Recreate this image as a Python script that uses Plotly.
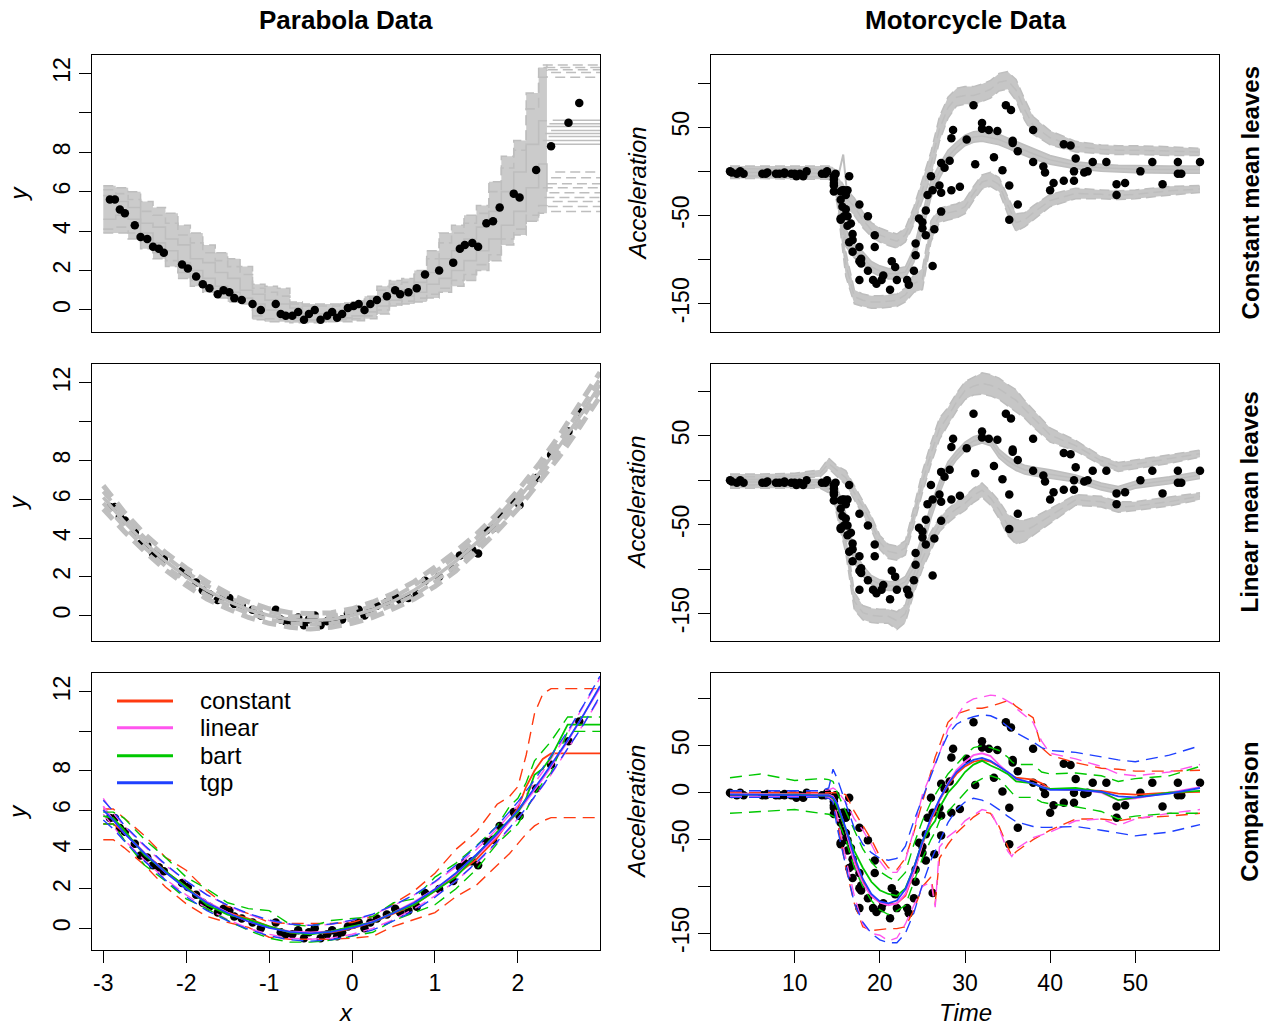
import plotly.graph_objects as go

# ====================== DATA ======================
# Parabola data points
PAR_X = [-2.92, -2.86, -2.80, -2.74, -2.62, -2.55, -2.47, -2.40, -2.33, -2.27, -2.05, -1.98, -1.88, -1.80,
         -1.72, -1.62, -1.55, -1.48, -1.42, -1.33, -1.20, -1.10, -0.92, -0.86, -0.80, -0.72, -0.65, -0.58,
         -0.52, -0.45, -0.38, -0.30, -0.24, -0.18, -0.12, -0.05, 0.02, 0.08, 0.15, 0.22, 0.30, 0.42, 0.52,
         0.58, 0.68, 0.78, 0.88, 1.05, 1.22, 1.30, 1.36, 1.45, 1.52, 1.62, 1.70, 1.78, 1.95, 2.02, 2.22,
         2.40, 2.61, 2.74]
PAR_Y = [5.6, 5.6, 5.1, 4.9, 4.3, 3.7, 3.6, 3.2, 3.1, 2.9, 2.3, 2.1, 1.7, 1.3,
         1.1, 0.8, 1.0, 0.9, 0.6, 0.5, 0.3, 0.0, 0.3, -0.2, -0.3, -0.3, -0.1, -0.5,
         -0.2, 0.0, -0.5, -0.3, -0.1, -0.4, -0.2, 0.1, 0.2, 0.3, 0.0, 0.3, 0.5, 0.7, 1.0,
         0.8, 0.9, 1.1, 1.8, 2.0, 2.4, 3.1, 3.3, 3.4, 3.2, 4.4, 4.5, 5.2, 5.9, 5.7, 7.1,
         8.3, 9.5, 10.5]

# Motorcycle data (times, acceleration)
MC_TIME = [2.4, 2.6, 3.2, 3.6, 4.0, 6.2, 6.6, 6.8, 7.8, 8.2, 8.8, 8.8, 9.6, 10.0, 10.2, 10.6, 11.0, 11.4,
           13.2, 13.6, 13.8, 14.6, 14.6, 14.6, 14.6, 14.6, 14.6, 14.8, 15.4, 15.4, 15.4, 15.4, 15.6, 15.6,
           15.8, 15.8, 16.0, 16.0, 16.2, 16.2, 16.2, 16.4, 16.4, 16.6, 16.8, 16.8, 16.8, 17.6, 17.6, 17.6,
           17.6, 17.8, 17.8, 18.6, 18.6, 19.2, 19.4, 19.4, 19.6, 20.2, 20.4, 21.2, 21.4, 21.8, 22.0, 23.2,
           23.4, 24.0, 24.2, 24.2, 24.6, 25.0, 25.0, 25.4, 25.4, 25.6, 26.0, 26.2, 26.2, 26.4, 27.0, 27.2,
           27.2, 27.2, 27.6, 28.2, 28.4, 28.4, 28.6, 29.4, 30.2, 31.0, 31.2, 32.0, 32.0, 32.8, 33.4, 33.8,
           34.4, 34.8, 35.2, 35.2, 35.4, 35.6, 35.6, 36.2, 36.2, 38.0, 38.0, 39.2, 39.4, 40.0, 40.4, 41.6,
           41.6, 42.4, 42.8, 42.8, 43.0, 44.0, 44.4, 45.0, 46.6, 47.8, 47.8, 48.8, 50.6, 52.0, 53.2, 55.0,
           55.0, 55.4, 57.6]
MC_ACCEL = [0.0, -1.3, -2.7, 0.0, -2.7, -2.7, -2.7, -1.3, -2.7, -2.7, -1.3, -2.7, -2.7, -2.7, -5.4, -2.7,
            -5.4, 0.0, -2.7, -2.7, 0.0, -13.3, -5.4, -5.4, -9.3, -16.0, -22.8, -2.7, -22.8, -32.1, -53.5,
            -54.9, -40.2, -21.5, -21.5, -50.8, -42.9, -26.8, -21.5, -50.8, -61.7, -5.4, -80.4, -59.0, -71.0,
            -91.1, -77.7, -37.5, -85.6, -123.1, -101.9, -99.1, -104.4, -112.5, -50.8, -123.1, -85.6, -72.3,
            -127.2, -123.1, -117.9, -134.0, -101.9, -108.4, -123.1, -123.1, -128.5, -112.5, -95.1, -81.8,
            -53.5, -64.4, -57.6, -72.3, -44.3, -26.8, -5.4, -107.1, -21.5, -65.6, -16.0, -45.6, -24.2, 9.5,
            4.0, 12.0, -21.5, 37.5, 46.9, -17.4, 36.2, 75.0, 8.1, 54.9, 48.2, 46.9, 16.0, 45.6, 1.3, 75.0,
            -16.0, -54.9, 69.6, 34.8, 32.1, -37.5, 22.8, 46.9, 10.7, 5.4, -1.3, -21.5, -13.3, 30.8, -10.7,
            29.4, 0.0, -10.7, 14.7, -1.3, 0.0, 10.7, 10.7, -26.8, -14.7, -13.3, 0.0, 10.7, -14.7, -2.7, 10.7,
            -2.7, 10.7]

# --- Top-left: constant-leaf posterior samples (envelope + a few sample step lines) ---
TL_X = [-3.0, -2.85, -2.7, -2.55, -2.4, -2.25, -2.1, -1.95, -1.8, -1.65, -1.5, -1.35, -1.2, -1.05, -0.9,
        -0.75, -0.6, -0.45, -0.3, -0.15, 0.0, 0.15, 0.3, 0.45, 0.6, 0.75, 0.9, 1.05, 1.2, 1.35, 1.5, 1.65,
        1.8, 1.95, 2.1, 2.25, 2.35]
TL_HI = [6.3, 6.2, 6.0, 5.5, 5.2, 4.9, 4.3, 3.9, 3.3, 2.9, 2.6, 2.2, 1.3, 1.2, 1.1, 0.4, 0.3, 0.3, 0.3,
         0.35, 0.45, 0.7, 1.2, 1.5, 1.6, 2.0, 3.0, 3.9, 4.3, 4.8, 5.3, 6.5, 7.8, 8.6, 11.0, 12.3, 12.45]
TL_LO = [3.9, 3.9, 3.6, 3.1, 2.6, 2.2, 1.6, 1.2, 0.9, 0.6, 0.4, 0.3, -0.5, -0.6, -0.6, -0.65, -0.65,
         -0.65, -0.6, -0.6, -0.55, -0.45, -0.2, 0.2, 0.3, 0.4, 0.6, 0.9, 1.2, 1.5, 2.0, 2.5, 3.3, 3.8, 4.5,
         4.9, 5.0]
TL_S1 = [5.8, 5.5, 5.2, 4.4, 4.2, 3.6, 3.3, 2.6, 2.4, 1.9, 1.6, 1.0, 0.8, 0.5, 0.3, 0.1, -0.2, -0.2, -0.1,
         0.0, 0.1, 0.3, 0.5, 0.9, 1.0, 1.4, 1.9, 2.6, 3.0, 3.6, 4.2, 5.0, 6.0, 7.0, 8.4, 9.6, 9.6]
TL_S2 = [4.6, 4.8, 4.6, 3.9, 3.4, 3.0, 2.4, 2.0, 1.6, 1.2, 0.9, 0.6, 0.3, 0.0, -0.3, -0.4, -0.5, -0.5,
         -0.4, -0.4, -0.3, -0.1, 0.2, 0.5, 0.7, 0.9, 1.3, 1.6, 2.0, 2.5, 3.0, 3.6, 4.3, 5.0, 6.2, 7.4, 6.0]
TL_S3 = [6.1, 5.9, 5.6, 5.0, 4.8, 4.4, 3.8, 3.4, 2.9, 2.5, 2.2, 1.8, 1.1, 0.9, 0.7, 0.3, 0.2, 0.2, 0.2,
         0.25, 0.35, 0.6, 1.0, 1.3, 1.4, 1.8, 2.6, 3.4, 3.9, 4.4, 4.9, 6.0, 7.2, 8.1, 10.2, 11.8, 12.2]
TL_S4 = [4.1, 4.2, 3.9, 3.4, 2.9, 2.5, 1.9, 1.5, 1.1, 0.8, 0.6, 0.4, -0.3, -0.45, -0.5, -0.55, -0.55,
         -0.55, -0.5, -0.5, -0.45, -0.3, 0.0, 0.3, 0.45, 0.6, 0.8, 1.1, 1.5, 1.8, 2.3, 2.8, 3.6, 4.1, 4.8,
         5.3, 5.5]
# flat leaves at the right end: levels and start points of sample lines
TL_X_END = 2.99
TL_UP_LEVELS = [12.42, 12.3, 12.18, 12.05, 11.8]
TL_UP_X0 = [2.30, 2.33, 2.36, 2.40, 2.45]
TL_MEAN_LEVELS = [9.62, 9.45, 9.3, 9.1, 8.95, 8.8, 8.6, 8.4]
TL_MEAN_X0 = [2.42, 2.38, 2.35, 2.40, 2.33, 2.37, 2.30, 2.36]
TL_LO_LEVELS = [7.0, 6.7, 6.4, 6.2, 5.95, 5.7, 5.5, 5.25, 5.0]
TL_LO_X0 = [2.45, 2.40, 2.35, 2.30, 2.38, 2.32, 2.42, 2.36, 2.40]

# --- Middle-left: linear-leaf posterior sample lines ---
ML_X = [-3.0, -2.75, -2.5, -2.25, -2.0, -1.75, -1.5, -1.25, -1.0, -0.75, -0.5, -0.25, 0.0, 0.25, 0.5,
        0.75, 1.0, 1.25, 1.5, 1.75, 2.0, 2.25, 2.5, 2.75, 2.99]
ML_MEAN = [6.1, 4.85, 3.75, 2.8, 2.0, 1.3, 0.75, 0.3, 0.0, -0.2, -0.25, -0.2, 0.0, 0.3, 0.75, 1.3, 2.0,
           2.8, 3.75, 4.8, 6.0, 7.3, 8.75, 10.3, 11.9]
ML_HI = [6.7, 5.35, 4.2, 3.25, 2.45, 1.75, 1.15, 0.7, 0.35, 0.15, 0.1, 0.15, 0.35, 0.7, 1.15, 1.75, 2.5,
         3.3, 4.2, 5.25, 6.45, 7.8, 9.3, 10.9, 12.55]
ML_LO = [5.5, 4.35, 3.3, 2.35, 1.55, 0.85, 0.35, -0.1, -0.4, -0.6, -0.7, -0.6, -0.4, -0.1, 0.35, 0.85,
         1.5, 2.3, 3.3, 4.35, 5.5, 6.8, 8.2, 9.75, 11.3]
ML_HI2 = [6.4, 5.1, 4.0, 3.05, 2.25, 1.55, 0.95, 0.5, 0.18, -0.02, -0.06, -0.02, 0.18, 0.5, 0.95, 1.55,
          2.25, 3.05, 4.0, 5.05, 6.25, 7.55, 9.0, 10.6, 12.2]
ML_LO2 = [5.8, 4.6, 3.5, 2.55, 1.75, 1.05, 0.55, 0.1, -0.2, -0.4, -0.45, -0.4, -0.2, 0.1, 0.55, 1.05,
          1.75, 2.55, 3.5, 4.55, 5.75, 7.05, 8.5, 10.0, 11.6]

# --- Bottom-left: comparison of fits (mean, 5% and 95% quantiles) ---
BL_X = [-3.0, -2.88, -2.75, -2.5, -2.25, -2.0, -1.75, -1.5, -1.25, -1.0, -0.75, -0.5, -0.25, 0.0, 0.25,
        0.5, 0.75, 1.0, 1.25, 1.5, 1.75, 1.9, 2.0, 2.1, 2.2, 2.3, 2.4, 2.6, 2.8, 2.99]
CONST_MEAN = [5.3, 5.3, 4.9, 3.8, 2.9, 2.1, 1.3, 0.8, 0.5, 0.1, -0.2, -0.25, -0.2, 0.0, 0.3, 0.75, 1.2,
              1.9, 2.7, 3.5, 4.6, 5.5, 6.1, 7.2, 8.0, 8.6, 8.88, 8.88, 8.88, 8.88]
CONST_HI = [6.06, 6.06, 5.6, 4.7, 3.6, 2.95, 1.9, 1.1, 0.75, 0.3, 0.25, 0.25, 0.25, 0.3, 0.6, 1.25, 1.9,
            2.8, 4.0, 4.9, 6.3, 6.7, 7.2, 8.8, 10.9, 11.9, 12.17, 12.17, 12.17, 12.17]
CONST_LO = [4.5, 4.5, 4.1, 3.2, 2.1, 1.25, 0.6, 0.3, 0.05, -0.45, -0.55, -0.55, -0.55, -0.5, -0.4, 0.1,
            0.45, 0.8, 1.6, 2.2, 3.2, 3.8, 4.3, 4.8, 5.2, 5.45, 5.62, 5.62, 5.62, 5.62]
LIN_MEAN = [6.2, 5.5, 4.85, 3.8, 2.85, 2.05, 1.35, 0.8, 0.35, 0.05, -0.15, -0.2, -0.15, 0.05, 0.35, 0.8,
            1.35, 2.0, 2.75, 3.65, 4.7, 5.4, 5.9, 6.45, 7.0, 7.6, 8.2, 9.5, 10.9, 12.2]
LIN_HI = [6.6, 5.85, 5.2, 4.15, 3.2, 2.4, 1.7, 1.15, 0.7, 0.4, 0.2, 0.15, 0.2, 0.4, 0.7, 1.15, 1.7, 2.35,
          3.1, 4.0, 5.05, 5.75, 6.25, 6.8, 7.35, 7.95, 8.6, 9.9, 11.35, 12.7]
LIN_LO = [5.8, 5.15, 4.5, 3.45, 2.5, 1.7, 1.0, 0.45, 0.0, -0.3, -0.5, -0.55, -0.5, -0.3, 0.0, 0.45, 1.0,
          1.65, 2.4, 3.3, 4.35, 5.05, 5.55, 6.1, 6.65, 7.25, 7.8, 9.1, 10.45, 11.7]
BART_MEAN = [5.7, 5.6, 5.0, 3.7, 2.9, 2.1, 1.2, 0.7, 0.45, 0.1, -0.2, -0.3, -0.15, 0.1, 0.3, 0.8, 1.2,
             1.9, 2.6, 3.7, 4.9, 5.5, 5.9, 6.6, 7.8, 8.1, 8.7, 10.34, 10.34, 10.34]
BART_HI = [5.9, 5.9, 5.6, 4.5, 3.6, 2.6, 2.0, 1.3, 1.0, 0.9, 0.2, 0.1, 0.4, 0.5, 0.6, 1.3, 1.5, 2.6, 3.3,
           4.2, 5.2, 6.2, 6.6, 7.4, 8.5, 9.0, 9.5, 10.73, 10.73, 10.73]
BART_LO = [5.3, 5.3, 4.5, 3.2, 2.4, 1.5, 1.0, 0.4, -0.1, -0.5, -0.7, -0.7, -0.6, -0.4, -0.2, 0.4, 0.8,
           1.2, 2.0, 3.0, 4.3, 4.9, 5.3, 6.0, 6.8, 7.4, 7.9, 10.0, 10.0, 10.0]
TGP_MEAN = [6.0, 5.5, 4.85, 3.8, 2.85, 2.0, 1.3, 0.78, 0.35, 0.02, -0.18, -0.25, -0.18, 0.02, 0.32, 0.78,
            1.3, 1.98, 2.8, 3.75, 4.8, 5.5, 6.0, 6.55, 7.1, 7.7, 8.3, 9.55, 10.9, 12.3]
TGP_HI = [6.5, 5.95, 5.25, 4.2, 3.25, 2.4, 1.7, 1.18, 0.75, 0.42, 0.22, 0.15, 0.22, 0.42, 0.72, 1.18, 1.7,
          2.38, 3.2, 4.15, 5.2, 5.9, 6.42, 6.98, 7.53, 8.15, 8.75, 10.0, 11.4, 12.8]
TGP_LO = [5.5, 5.05, 4.45, 3.4, 2.45, 1.6, 0.9, 0.38, -0.05, -0.38, -0.58, -0.65, -0.58, -0.38, -0.08,
          0.38, 0.9, 1.58, 2.4, 3.35, 4.4, 5.1, 5.58, 6.12, 6.67, 7.25, 7.85, 9.1, 10.4, 11.8]

# --- Right column grey bands (posterior samples): centre and half-thickness ---
TG = [2.4, 6, 10, 13, 14, 14.5, 15, 16, 17, 18, 19, 20, 21, 22, 23, 24, 25, 26, 27, 28, 29, 30, 31, 32,
      33, 34, 35, 36, 37, 38, 40, 43, 46, 48, 50, 54, 57.6]
# constant mean leaves
TR_MEAN_C = [-1, -1.5, -2, -2, -3, -8, -20, -75, -90, -98, -108, -113, -116, -116, -114, -95, -58, -20,
             0, 17, 27, 35, 39, 40, 38, 36, 32, 28, 24, 20, 13, 7, 4, 3, 2.5, 2, 2]
TR_MEAN_W = [4, 4, 4, 4, 4, 5, 7, 10, 8, 7, 6, 6, 6, 6, 6, 8, 10, 10, 8, 7, 6, 6, 6, 6, 6, 6, 6, 6, 6, 6,
             5, 4, 4, 4, 4, 4, 4]
TR_UP_C = [3, 3, 3, 3, 3, 0, -12, -30, -40, -55, -66, -72, -76, -79, -72, -50, -22, 8, 48, 72, 84, 86,
           86, 89, 93, 101, 103, 92, 70, 52, 38, 28, 25, 24, 24, 23, 22]
TR_UP_W = [3, 3, 3, 3, 3, 5, 8, 10, 10, 9, 8, 8, 8, 8, 8, 10, 12, 14, 14, 12, 10, 10, 10, 10, 10, 10, 10,
           12, 12, 10, 8, 6, 5, 5, 5, 5, 4]
TR_LO_C = [-5, -5, -6, -6, -6, -10, -30, -105, -142, -146, -148, -148, -147, -146, -140, -127, -122, -68,
           -50, -47, -45, -40, -25, -12, -9, -15, -38, -58, -55, -47, -33, -25, -26, -27, -26, -22, -20]
TR_LO_W = [3, 3, 3, 3, 3, 5, 8, 14, 8, 7, 7, 7, 7, 7, 8, 10, 12, 12, 8, 8, 8, 8, 8, 8, 8, 8, 10, 10, 8, 8,
           7, 6, 5, 5, 5, 5, 4]
TR_SPIKE_T = [15.0, 15.7, 16.2]
TR_SPIKE_A = [-10, 19, -30]
# linear mean leaves
MR_UP_C = [4, 4, 5, 8, 19, 15, 10, 3, -14, -30, -48, -70, -80, -82, -76, -40, -2, 30, 58, 72, 88, 101,
           106, 109, 107, 103, 96, 90, 80, 70, 51, 39, 22, 15, 18, 24, 30]
MR_UP_W = [3, 3, 3, 4, 6, 6, 6, 8, 8, 8, 8, 8, 8, 8, 8, 10, 12, 12, 12, 10, 10, 10, 10, 12, 12, 12, 12,
           12, 10, 10, 8, 6, 5, 5, 5, 5, 4]
MR_MEAN_C = [-2, -2, -2, -2, -2, -4, -14, -45, -86, -102, -112, -117, -119, -119, -114, -98, -70, -35,
             -8, 15, 28, 38, 44, 47, 44, 30, 22, 16, 12, 10, 7, 2, -7, -11, -5, 0, 6]
MR_MEAN_W = [3, 3, 3, 3, 3, 4, 6, 8, 7, 6, 5, 5, 5, 5, 6, 8, 8, 8, 7, 6, 5, 5, 5, 5, 5, 5, 5, 5, 5, 5, 5,
             4, 4, 4, 4, 4, 4]
MR_LO_C = [-6, -6, -6, -6, -10, -15, -33, -70, -136, -149, -152, -153, -153, -158, -150, -115, -88, -68,
           -50, -40, -32, -26, -17, -11, -20, -33, -50, -58, -57, -52, -40, -22, -24, -30, -29, -24, -18]
MR_LO_W = [3, 3, 3, 3, 4, 6, 8, 12, 10, 8, 8, 8, 8, 10, 10, 12, 12, 10, 8, 8, 8, 8, 8, 8, 8, 10, 12, 14,
           12, 10, 8, 6, 6, 6, 5, 5, 4]

# --- Bottom-right: comparison of fits on the motorcycle data ---
TC = [2.4, 6, 10, 13, 14, 14.5, 15, 16, 17, 18, 19, 20, 21, 22, 23, 24, 25, 26, 26.5, 27, 28, 29, 30, 31,
      32, 33, 34, 35, 35.5, 36, 38, 39, 40, 43, 46, 48, 50, 54, 57.6]
TGP_M_MEAN = [-2, -2, -2.5, -3, -3, -5, -12, -38, -68, -92, -108, -116, -118, -115, -103, -80, -52, -27,
              -17, -7, 9, 22, 30, 35, 37, 34, 28, 22, 19, 15, 10, 6, 3, 3, 1, -4, -5, -1, 5]
TGP_M_HI = [2, 2, 2, 2, 5, 25, 15, -12, -38, -55, -64, -70, -72, -70, -57, -30, -5, 18, 30, 42, 62, 73,
            78, 81, 83, 82, 78, 70, 67, 64, 54, 48, 45, 43, 38, 35, 33, 40, 50]
TGP_M_LO = [-5, -5, -5, -5, -6, -10, -38, -78, -118, -138, -150, -157, -160, -160, -150, -128, -98, -72,
            -62, -52, -32, -18, -10, -6, -8, -12, -18, -25, -28, -31, -36, -37, -37, -36, -40, -43, -46,
            -42, -34]
CONST_M_MEAN = [-1, -1.5, -2, -2, -2, -4, -15, -40, -72, -95, -110, -117, -119, -118, -110, -85, -55, -30,
                -20, -8, 8, 20, 28, 33, 35, 33, 28, 22, 18, 16, 14, 10, 4, 3, 2, -1, -2, 0, 1]
CONST_M_HI = [0, 0, 0, 0, 0, 0, 0, -2, -20, -35, -50, -68, -80, -82, -70, -42, -10, 22, 38, 50, 75, 84,
              87, 90, 90, 92, 95, 98, 96, 92, 80, 48, 40, 32, 26, 25, 23, 23, 24]
CONST_M_LO = [-4, -4, -4, -4, -4, -8, -30, -80, -118, -143, -147, -146, -145, -145, -143, -125, -100, -90,
              -118, -70, -55, -43, -35, -26, -20, -22, -36, -58, -68, -63, -50, -45, -40, -28, -28, -30,
              -27, -25, -22]
LIN_M_MEAN = [-1, -1.5, -2, -2, -2, -4, -12, -40, -75, -97, -110, -117, -120, -118, -108, -85, -55, -28,
              -18, -8, 10, 24, 33, 40, 42, 39, 30, 22, 18, 14, 10, 7, 4, 4, 0, -8, -6, 0, 6]
LIN_M_HI = [2, 2, 2, 2, 3, 5, 2, -10, -28, -40, -55, -73, -85, -85, -72, -40, -2, 20, 30, 42, 68, 80,
            95, 100, 102, 104, 103, 98, 95, 90, 75, 55, 42, 36, 28, 20, 18, 22, 30]
LIN_M_LO = [-4, -4, -4, -4, -5, -8, -25, -70, -110, -140, -150, -152, -158, -155, -140, -120, -100, -95,
            -122, -58, -47, -40, -30, -24, -18, -20, -38, -62, -68, -60, -48, -45, -42, -30, -28, -35,
            -28, -22, -18]
BART_M_MEAN = [-2, -2, -2, -3, -3, -6, -15, -40, -62, -80, -95, -104, -108, -110, -102, -80, -52, -36,
               -30, -16, 0, 10, 22, 30, 34, 29, 25, 20, 16, 12, 10, 6, 4, 5, 1, -8, -5, 0, 2]
BART_M_HI = [16, 20, 13, 15, 14, 12, 0, -20, -40, -60, -74, -84, -90, -95, -85, -55, -30, -10, -2, 5, 20,
             30, 40, 48, 50, 48, 45, 38, 33, 30, 30, 22, 20, 21, 18, 12, 15, 18, 28]
BART_M_LO = [-22, -20, -18, -22, -23, -25, -28, -50, -80, -100, -115, -125, -130, -126, -120, -95, -70,
             -50, -42, -30, -20, -10, 0, 10, 15, 18, 15, 5, 0, -5, -5, -10, -12, -15, -20, -28, -25, -22,
             -22]

# tick labels
LEFT_XTICKS = [-3, -2, -1, 0, 1, 2]
RIGHT_XTICKS = [10, 20, 30, 40, 50]
LEFT_YTICKS = [0, 2, 4, 6, 8, 10, 12]
LEFT_YTEXT = ["0", "2", "4", "6", "8", "", "12"]
RIGHT_YTICKS = [-150, -100, -50, 0, 50, 100]
RIGHT_YTEXT_UP = ["-150", "", "-50", "", "50", ""]
RIGHT_YTEXT_BOT = ["-150", "", "-50", "0", "50", ""]

COL_TITLES = ["Parabola Data", "Motorcycle Data"]
ROW_TITLES = ["Constant mean leaves", "Linear mean leaves", "Comparison"]
MODELS = ["constant", "linear", "bart", "tgp"]

# ====================== STYLE / LAYOUT ======================
W, H = 1273, 1030
FONT = "Liberation Sans, Arial, Helvetica, sans-serif"
GRAY = "#BEBEBE"
FILL = "#C6C6C6"
FILL_TL = "#CBCBCB"
COLORS = {"constant": "#FF3A10", "linear": "#FF55EE", "bart": "#00C800", "tgp": "#1F40FF"}
DASH = "12px,7px"
GDASH = "10px,5px"
COL_X = [(92, 600), (711, 1219)]
ROW_Y = [(55, 333), (365, 643), (675, 953)]

fig = go.Figure()


def ax(k):
    return dict(xaxis="x%d" % k, yaxis="y%d" % k, hoverinfo="skip", showlegend=False)


def points(k, x, y):
    fig.add_trace(go.Scatter(x=x, y=y, mode="markers",
                             marker=dict(color="black", size=8.5, line=dict(width=0)), **ax(k)))


def line(k, x, y, color, width, dash="solid", shape="linear", fill=None):
    kw = {}
    if fill:
        kw = dict(fill="tonexty", fillcolor=fill)
    fig.add_trace(go.Scatter(x=x, y=y, mode="lines",
                             line=dict(color=color, width=width, dash=dash, shape=shape), **kw, **ax(k)))


def grey_band(k, t, c, w, dash):
    lo = [ci - wi for ci, wi in zip(c, w)]
    hi = [ci + wi for ci, wi in zip(c, w)]
    line(k, t, lo, GRAY, 1.5, dash)
    line(k, t, hi, GRAY, 1.5, dash, fill=FILL)
    line(k, t, c, GRAY, 1.5, dash)


def flat_lines(k, levels, x0s, x_end, dash, width):
    xs, ys = [], []
    for lv, x0 in zip(levels, x0s):
        xs += [x0, x_end, None]
        ys += [lv, lv, None]
    line(k, xs, ys, GRAY, width, dash)


# ---- Panel 1: parabola, constant leaves ----
line(1, TL_X, TL_LO, GRAY, 1.5, GDASH, shape="hv")
line(1, TL_X, TL_HI, GRAY, 1.5, GDASH, shape="hv", fill=FILL_TL)
line(1, TL_X, TL_S1, GRAY, 1.6, shape="hv")
line(1, TL_X, TL_S2, GRAY, 1.6, shape="hv")
line(1, TL_X, TL_S3, GRAY, 1.6, GDASH, shape="hv")
line(1, TL_X, TL_S4, GRAY, 1.6, GDASH, shape="hv")
flat_lines(1, TL_UP_LEVELS, TL_UP_X0, TL_X_END, GDASH, 1.5)
flat_lines(1, TL_MEAN_LEVELS, TL_MEAN_X0, TL_X_END, "solid", 1.5)
flat_lines(1, TL_LO_LEVELS, TL_LO_X0, TL_X_END, GDASH, 1.5)
points(1, PAR_X, PAR_Y)

# ---- Panel 2: motorcycle, constant leaves ----
grey_band(2, TG, TR_UP_C, TR_UP_W, GDASH)
grey_band(2, TG, TR_LO_C, TR_LO_W, GDASH)
grey_band(2, TG, TR_MEAN_C, TR_MEAN_W, "solid")
line(2, TR_SPIKE_T, TR_SPIKE_A, GRAY, 2)
points(2, MC_TIME, MC_ACCEL)

# ---- Panel 3: parabola, linear leaves ----
points(3, PAR_X, PAR_Y)
line(3, ML_X, ML_MEAN, GRAY, 3.5)
for arr in (ML_HI2, ML_LO2):
    line(3, ML_X, arr, GRAY, 4, "12px,7px")
for arr in (ML_HI, ML_LO):
    line(3, ML_X, arr, GRAY, 5, "14px,8px")

# ---- Panel 4: motorcycle, linear leaves ----
grey_band(4, TG, MR_UP_C, MR_UP_W, GDASH)
grey_band(4, TG, MR_LO_C, MR_LO_W, GDASH)
grey_band(4, TG, MR_MEAN_C, MR_MEAN_W, "solid")
points(4, MC_TIME, MC_ACCEL)

# ---- Panel 5: parabola comparison ----
points(5, PAR_X, PAR_Y)
BL_SETS = {"constant": (CONST_MEAN, CONST_LO, CONST_HI), "linear": (LIN_MEAN, LIN_LO, LIN_HI),
           "bart": (BART_MEAN, BART_LO, BART_HI), "tgp": (TGP_MEAN, TGP_LO, TGP_HI)}
for m in MODELS:
    mean, lo, hi = BL_SETS[m]
    line(5, BL_X, mean, COLORS[m], 1.8)
    line(5, BL_X, lo, COLORS[m], 1.4, DASH)
    line(5, BL_X, hi, COLORS[m], 1.4, DASH)

# ---- Panel 6: motorcycle comparison ----
points(6, MC_TIME, MC_ACCEL)
BR_SETS = {"constant": (CONST_M_MEAN, CONST_M_LO, CONST_M_HI), "linear": (LIN_M_MEAN, LIN_M_LO, LIN_M_HI),
           "bart": (BART_M_MEAN, BART_M_LO, BART_M_HI), "tgp": (TGP_M_MEAN, TGP_M_LO, TGP_M_HI)}
for m in MODELS:
    mean, lo, hi = BR_SETS[m]
    line(6, TC, mean, COLORS[m], 1.8)
    line(6, TC, lo, COLORS[m], 1.4, DASH)
    line(6, TC, hi, COLORS[m], 1.4, DASH)

# ---- axes ----
XRANGE = [[-3.136, 2.99], [0.17, 59.83]]
YRANGE = {1: [-1.12, 12.94], 2: [-182, 132], 3: [-1.32, 12.98], 4: [-181, 131], 5: [-1.11, 12.96],
          6: [-168, 127.6]}
layout = dict(width=W, height=H, margin=dict(l=0, r=0, t=0, b=0), plot_bgcolor="white",
              paper_bgcolor="white", showlegend=False, font=dict(family=FONT, color="black"))
for r in range(3):
    for c in range(2):
        k = r * 2 + c + 1
        x0, x1 = COL_X[c]
        y0, y1 = ROW_Y[r]
        bottom = (r == 2)
        xt = LEFT_XTICKS if c == 0 else RIGHT_XTICKS
        layout["xaxis%d" % k] = dict(
            domain=[x0 / W, x1 / W], anchor="y%d" % k, range=XRANGE[c],
            tickvals=xt if bottom else [], ticktext=[str(v) for v in xt] if bottom else [],
            ticks="outside" if bottom else "", ticklen=12, tickwidth=1.2, tickcolor="black",
            showticklabels=bottom, tickfont=dict(size=23, family=FONT),
            showline=True, linecolor="black", linewidth=1.3, mirror=True,
            showgrid=False, zeroline=False)
        if c == 0:
            tv, tt = LEFT_YTICKS, LEFT_YTEXT
        else:
            tv, tt = RIGHT_YTICKS, (RIGHT_YTEXT_BOT if bottom else RIGHT_YTEXT_UP)
        layout["yaxis%d" % k] = dict(
            domain=[1 - y1 / H, 1 - y0 / H], anchor="x%d" % k, range=YRANGE[k],
            tickvals=tv, ticktext=tt, tickangle=-90,
            ticks="outside", ticklen=12, tickwidth=1.2, tickcolor="black",
            tickfont=dict(size=23, family=FONT),
            showline=True, linecolor="black", linewidth=1.3, mirror=True,
            showgrid=False, zeroline=False)

ann = []
for c, title in enumerate(COL_TITLES):
    xc = (COL_X[c][0] + COL_X[c][1]) / 2
    ann.append(dict(text="<b>%s</b>" % title, x=xc / W, y=1 - 20 / H, xref="paper", yref="paper",
                    showarrow=False, xanchor="center", yanchor="middle", font=dict(size=26, family=FONT)))
for r, title in enumerate(ROW_TITLES):
    yc = (ROW_Y[r][0] + ROW_Y[r][1]) / 2
    ann.append(dict(text="<b>%s</b>" % title, x=1250 / W, y=1 - yc / H, xref="paper", yref="paper",
                    showarrow=False, xanchor="center", yanchor="middle", textangle=-90,
                    font=dict(size=24, family=FONT)))
for r in range(3):
    yc = (ROW_Y[r][0] + ROW_Y[r][1]) / 2
    ann.append(dict(text="<i>y</i>", x=18 / W, y=1 - yc / H, xref="paper", yref="paper",
                    showarrow=False, xanchor="center", yanchor="middle", textangle=-90,
                    font=dict(size=24, family=FONT)))
    ann.append(dict(text="<i>Acceleration</i>", x=637 / W, y=1 - yc / H, xref="paper", yref="paper",
                    showarrow=False, xanchor="center", yanchor="middle", textangle=-90,
                    font=dict(size=24, family=FONT)))
ann.append(dict(text="<i>x</i>", x=346 / W, y=1 - 1015 / H, xref="paper", yref="paper", showarrow=False,
                xanchor="center", yanchor="middle", font=dict(size=24, family=FONT)))
ann.append(dict(text="<i>Time</i>", x=965 / W, y=1 - 1015 / H, xref="paper", yref="paper", showarrow=False,
                xanchor="center", yanchor="middle", font=dict(size=24, family=FONT)))

shapes = []
LEG_Y = [703, 730, 758, 785]
for m, ly in zip(MODELS, LEG_Y):
    shapes.append(dict(type="line", xref="paper", yref="paper", x0=117 / W, x1=173 / W,
                       y0=1 - ly / H, y1=1 - ly / H, line=dict(color=COLORS[m], width=3)))
    ann.append(dict(text=m, x=198 / W, y=1 - ly / H, xref="paper", yref="paper", showarrow=False,
                    xanchor="left", yanchor="middle", font=dict(size=24, family=FONT)))

layout["annotations"] = ann
layout["shapes"] = shapes
fig.update_layout(**layout)
fig.write_html("out.html", config={"displayModeBar": False},
               post_script="document.body.style.margin='0px';document.body.style.padding='0px';"
                           "document.documentElement.style.overflow='hidden';")
